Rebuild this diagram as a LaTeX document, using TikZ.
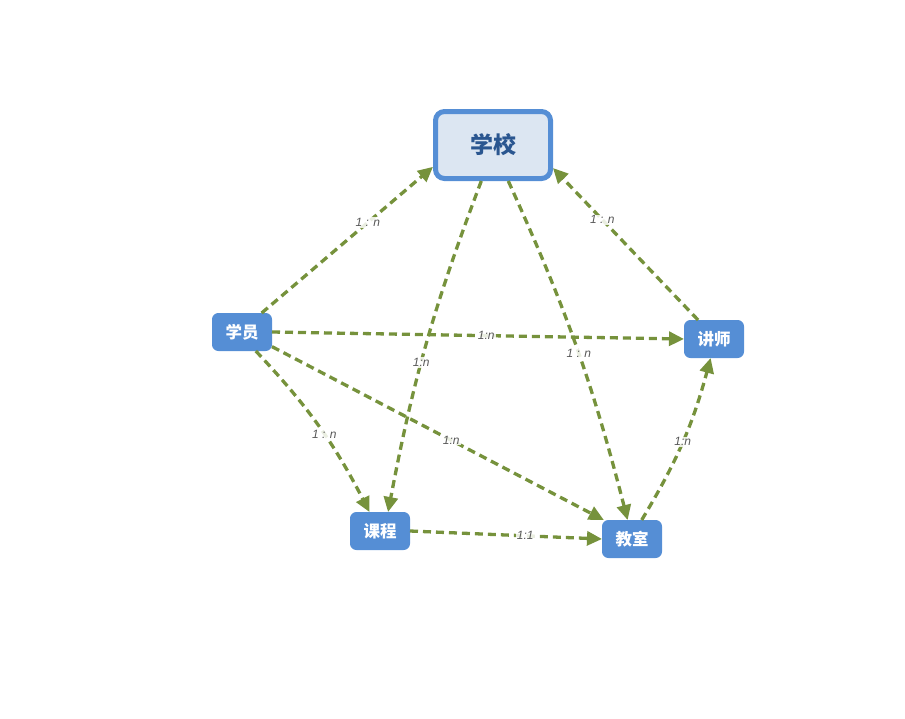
\documentclass[tikz,border=0pt]{standalone}
\usepackage{fontspec}
\setmainfont{Liberation Sans}
\newfontfamily\cjk{Noto Sans CJK SC}
\usetikzlibrary{arrows.meta}
\definecolor{boxblue}{HTML}{558ED5}
\definecolor{paleblue}{HTML}{DCE6F2}
\definecolor{darkblue}{HTML}{2A5690}
\definecolor{linkgreen}{HTML}{76923C}
\definecolor{labelgray}{HTML}{595959}
\tikzset{
  entity/.style={draw=boxblue, fill=boxblue, line width=1pt, rounded corners=6pt,
    minimum width=59pt, minimum height=37pt, inner sep=0pt, text=white,
    font=\cjk\bfseries\fontsize{16.5}{16.5}\selectfont},
  rootbox/.style={draw=boxblue, fill=paleblue, line width=5pt, rounded corners=9pt,
    minimum width=115pt, minimum height=67pt, inner sep=0pt, text=darkblue,
    font=\cjk\bfseries\fontsize{23}{23}\selectfont},
  link/.style={draw=linkgreen, line width=3.3pt, dash pattern=on 8pt off 5pt,
    -{Triangle[length=15pt,width=14pt]}},
  ratio/.style={fill=white, fill opacity=0.85, text opacity=1, text=labelgray,
    inner sep=1pt, font=\itshape\fontsize{12}{12}\selectfont}
}
\begin{document}
\begin{tikzpicture}[x=1pt,y=-1pt]
\useasboundingbox (0,0) rectangle (905,718);

\node[rootbox] (school) at (493,145) {学校};
\node[entity] (student) at (242,332) {学员};
\node[entity] (teacher) at (714,339) {讲师};
\node[entity] (course) at (380,531) {课程};
\node[entity] (room) at (632,539) {教室};

\draw[link] (student.44) -- node[ratio, pos=0.62] {1 : n} (school.200);
\draw[link] (teacher.130) -- node[ratio, pos=0.66] {1 : n} (school.-21);
\draw[link] (school.-108) to[bend right=5] node[ratio, pos=0.56] {1:n} (course.67);
\draw[link] (school.-67) to[bend left=5] node[ratio, pos=0.52] {1 : n} (room.103);
\draw[link] (student.east) -- node[ratio, pos=0.52] {1:n} (teacher.west);
\draw[link] (student.-54) to[bend left=8] node[ratio, pos=0.55] {1 : n} (course.119);
\draw[link] (student.-26) -- node[ratio, pos=0.54] {1:n} (room.146);
\draw[link] (course.east) -- node[ratio, pos=0.6] {1:1} (room.west);
\draw[link] (room.63) to[bend right=8] node[ratio, pos=0.5] {1:n} (teacher.-100);
\end{tikzpicture}
\end{document}
